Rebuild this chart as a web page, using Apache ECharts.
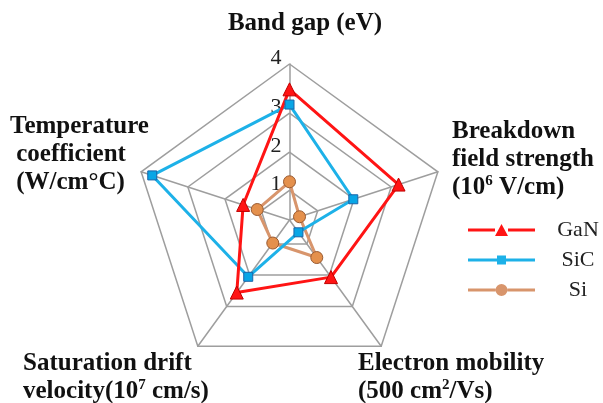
<!DOCTYPE html>
<html>
<head>
<meta charset="utf-8">
<script src="https://cdn.jsdelivr.net/npm/echarts@6/dist/echarts.min.js"></script>
<style>
  html, body { margin: 0; padding: 0; background: #ffffff; }
  #chart { width: 603px; height: 403px; }
</style>
</head>
<body>
<div id="chart"></div>
<script>
// Radar axes, counter-clockwise from the top
const axisNames = ['Band gap', 'Temperature coefficient', 'Saturation drift velocity', 'Electron mobility', 'Breakdown field strength'];
const materials = ['GaN', 'SiC', 'Si'];
const ganValues = [3.35, 1.25, 2.30, 1.81, 2.94];
const sicValues = [2.96, 3.70, 1.80, 0.39, 1.72];
const siValues  = [0.98, 0.87, 0.73, 1.19, 0.27];
const tickLabels = [1, 2, 3, 4];
const ringFractions = [0.19, 0.435, 0.685, 1];

const SERIF = '"Liberation Serif", "Times New Roman", serif';
const CX = 289.5, CY = 220, R = 156;
const GRID = '#9e9e9e';

const rich = {
  b: { fontFamily: SERIF, fontWeight: 'bold', fontSize: 25, lineHeight: 28, fill: '#111111' },
  s: { fontFamily: SERIF, fontWeight: 'bold', fontSize: 15, lineHeight: 14, verticalAlign: 'top', fill: '#111111' }
};
function nameText(x, y, text, align, vAlign) {
  return {
    type: 'text', x: x, y: y, silent: true,
    style: { text: text, rich: rich, align: align, textAlign: align,
             verticalAlign: vAlign, textVerticalAlign: vAlign }
  };
}

// data radar: spokes only
const dataRadar = {
  center: [CX, CY], radius: R, startAngle: 90, shape: 'polygon', splitNumber: 4,
  indicator: axisNames.map(n => ({ name: n, min: 0, max: 4 })),
  axisName: { show: false },
  axisLine: { lineStyle: { color: GRID, width: 1.5 } },
  axisTick: { show: false },
  axisLabel: { show: false },
  splitLine: { show: false },
  splitArea: { show: false }
};
// one ring per tick value
const ringRadars = tickLabels.map((t, k) => ({
  center: [CX, CY], radius: R * ringFractions[k], startAngle: 90, shape: 'polygon', splitNumber: 1,
  indicator: axisNames.map((n, i) => {
    const ind = { name: '', min: 0, max: t };
    if (i === 0) {
      ind.axisLabel = {
        show: true, fontFamily: SERIF, fontSize: 22, color: '#222222', margin: 8,
        verticalAlign: 'bottom', lineHeight: 12,
        formatter: v => (v === 0 ? '' : String(v))
      };
    }
    return ind;
  }),
  axisName: { show: false },
  axisLine: { show: false },
  axisTick: { show: false },
  axisLabel: { show: false },
  splitLine: { lineStyle: { color: GRID, width: 1.5 } },
  splitArea: { show: false }
}));

const styles = {
  GaN: { symbol: 'triangle', size: 13, line: '#ff1414', fill: '#ff1414', border: '#c00000',
         icon: 'path://M0,5.5 L27,5.5 L27,8.5 L0,8.5 Z M40,5.5 L67,5.5 L67,8.5 L40,8.5 Z M27,13 L33.5,1 L40,13 Z' },
  SiC: { symbol: 'rect', size: 9, line: '#1db1e8', fill: '#08a6e6', border: '#1a64a8',
         icon: 'path://M0,5.5 L29,5.5 L29,8.5 L0,8.5 Z M38,5.5 L67,5.5 L67,8.5 L38,8.5 Z M29,2.5 L38,2.5 L38,11.5 L29,11.5 Z' },
  Si:  { symbol: 'circle', size: 12, line: '#d8956c', fill: '#e4904c', border: '#9a5a30',
         icon: 'path://M0,5.5 L27.5,5.5 L27.5,8.5 L0,8.5 Z M39.5,5.5 L67,5.5 L67,8.5 L39.5,8.5 Z M27.5,7 A6,6 0 1 1 39.5,7 A6,6 0 1 1 27.5,7 Z' }
};
const valuesByName = { GaN: ganValues, SiC: sicValues, Si: siValues };

// draw Si first so GaN sits on top
const series = ['Si', 'SiC', 'GaN'].map(name => {
  const st = styles[name];
  return {
    type: 'radar', name: name, radarIndex: 0,
    symbol: st.symbol, symbolSize: st.size,
    lineStyle: { color: st.line, width: 3 },
    itemStyle: { color: st.fill, borderColor: st.border, borderWidth: 1 },
    emphasis: { disabled: true },
    data: [{ name: name, value: valuesByName[name] }]
  };
});

const chart = echarts.init(document.getElementById('chart'), null, { renderer: 'canvas' });
chart.setOption({
  animation: false,
  backgroundColor: '#ffffff',
  radar: [dataRadar].concat(ringRadars),
  legend: {
    orient: 'vertical', left: 463, top: 214,
    itemWidth: 67, itemHeight: 14, itemGap: 8,
    selectedMode: false,
    itemStyle: { borderWidth: 0 },
    data: materials.map(m => ({ name: m, icon: styles[m].icon, itemStyle: { color: styles[m].line } })),
    formatter: '{n|{name}}',
    textStyle: {
      rich: { n: { width: 76, align: 'center', fontFamily: SERIF, fontSize: 22, lineHeight: 22, color: '#222222' } }
    }
  },
  series: series,
  graphic: [
    nameText(305, 24, '{b|Band gap (eV)}', 'center', 'middle'),
    nameText(10, 113, '{b|Temperature}\n{b| coefficient}\n{b| (W/cm°C)}', 'left', 'top'),
    nameText(452, 118, '{b|Breakdown}\n{b|field strength}\n{b|(10}{s|6}{b| V/cm)}', 'left', 'top'),
    nameText(23, 350, '{b|Saturation drift}\n{b|velocity(10}{s|7}{b| cm/s)}', 'left', 'top'),
    nameText(358, 350, '{b|Electron mobility}\n{b|(500 cm}{s|2}{b|/Vs)}', 'left', 'top')
  ]
});
</script>
</body>
</html>
